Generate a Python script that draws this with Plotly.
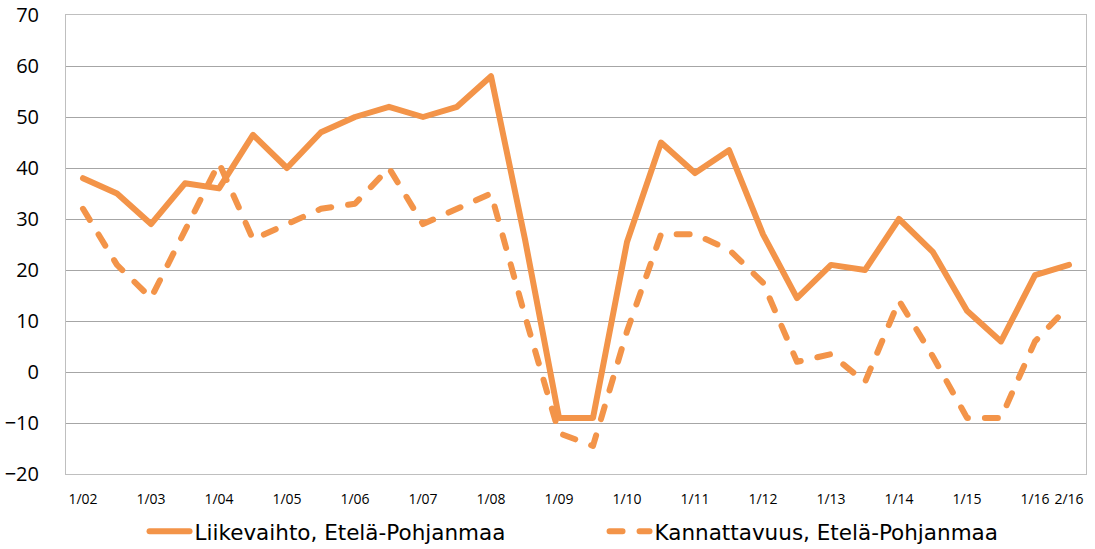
import plotly.graph_objects as go

categories = ["1/02", "2/02", "1/03", "2/03", "1/04", "2/04", "1/05", "2/05",
              "1/06", "2/06", "1/07", "2/07", "1/08", "2/08", "1/09", "2/09",
              "1/10", "2/10", "1/11", "2/11", "1/12", "2/12", "1/13", "2/13",
              "1/14", "2/14", "1/15", "2/15", "1/16", "2/16"]
liikevaihto = [38, 35, 29, 37, 36, 46.5, 40, 47, 50, 52, 50, 52, 58, 26, -9, -9,
               25.5, 45, 39, 43.5, 27, 14.5, 21, 20, 30, 23.5, 12, 6, 19, 21]
kannattavuus = [32, 21, 14.5, 28, 41, 26, 29, 32, 33, 40, 29, 32, 35, 11, -12, -14.5,
                8, 27, 27, 24, 17.5, 2, 3.5, -2, 14, 3, -9, -9, 6, 13]
tick_labels = ["1/02", "1/03", "1/04", "1/05", "1/06", "1/07", "1/08", "1/09",
               "1/10", "1/11", "1/12", "1/13", "1/14", "1/15", "1/16", "2/16"]
series_names = ["Liikevaihto, Etelä-Pohjanmaa", "Kannattavuus, Etelä-Pohjanmaa"]

ORANGE = "#F39449"
GRID = "#A6A6A6"

fig = go.Figure()
fig.add_trace(go.Scatter(x=categories, y=liikevaihto, mode="lines", name=series_names[0],
                         line=dict(color=ORANGE, width=6)))
fig.add_trace(go.Scatter(x=categories, y=kannattavuus, mode="lines", name=series_names[1],
                         line=dict(color=ORANGE, width=6, dash="13px,17px")))

fig.update_layout(
    width=1095, height=549,
    margin=dict(l=66, r=9, t=15, b=75, autoexpand=False),
    paper_bgcolor="white", plot_bgcolor="white",
    font=dict(family="Open Sans", color="#000000"),
    showlegend=True,
    legend=dict(orientation="h", x=0.077, xanchor="left", y=-0.08, yanchor="top",
                font=dict(family="DejaVu Sans", size=21.5, color="#000000"),
                entrywidth=405, itemwidth=40, tracegroupgap=0),
)
fig.update_xaxes(type="category", categoryorder="array", categoryarray=categories,
                 range=[-0.5, len(categories) - 0.5], automargin=False,
                 tickmode="array", tickvals=tick_labels, ticktext=tick_labels,
                 showgrid=False, showline=True, linecolor="#BFBFBF", linewidth=1, mirror=True,
                 ticks="", ticklabelstandoff=12, tickangle=0,
                 tickfont=dict(family="Open Sans", size=14, color="#000000"))
fig.update_yaxes(range=[-20, 70], tickmode="array", tickvals=list(range(-20, 71, 10)),
                 automargin=False,
                 showgrid=True, gridcolor=GRID, gridwidth=1, zeroline=False,
                 showline=True, linecolor="#BFBFBF", linewidth=1, mirror=True,
                 ticks="", ticklabelstandoff=22,
                 tickfont=dict(family="Open Sans", size=20, color="#000000"))

post = """
document.body.style.margin='0';
document.body.style.padding='0';
function fixCaps(){
  document.querySelectorAll('.scatterlayer .js-line, .legendlines path').forEach(function(p){
    p.style.strokeLinecap='round'; p.style.strokeLinejoin='round';
  });
}
fixCaps();
var gd = document.getElementById('{plot_id}');
if (gd && gd.on) { gd.on('plotly_afterplot', fixCaps); }
"""
fig.write_html("out.html", post_script=post, config={"displayModeBar": False})
